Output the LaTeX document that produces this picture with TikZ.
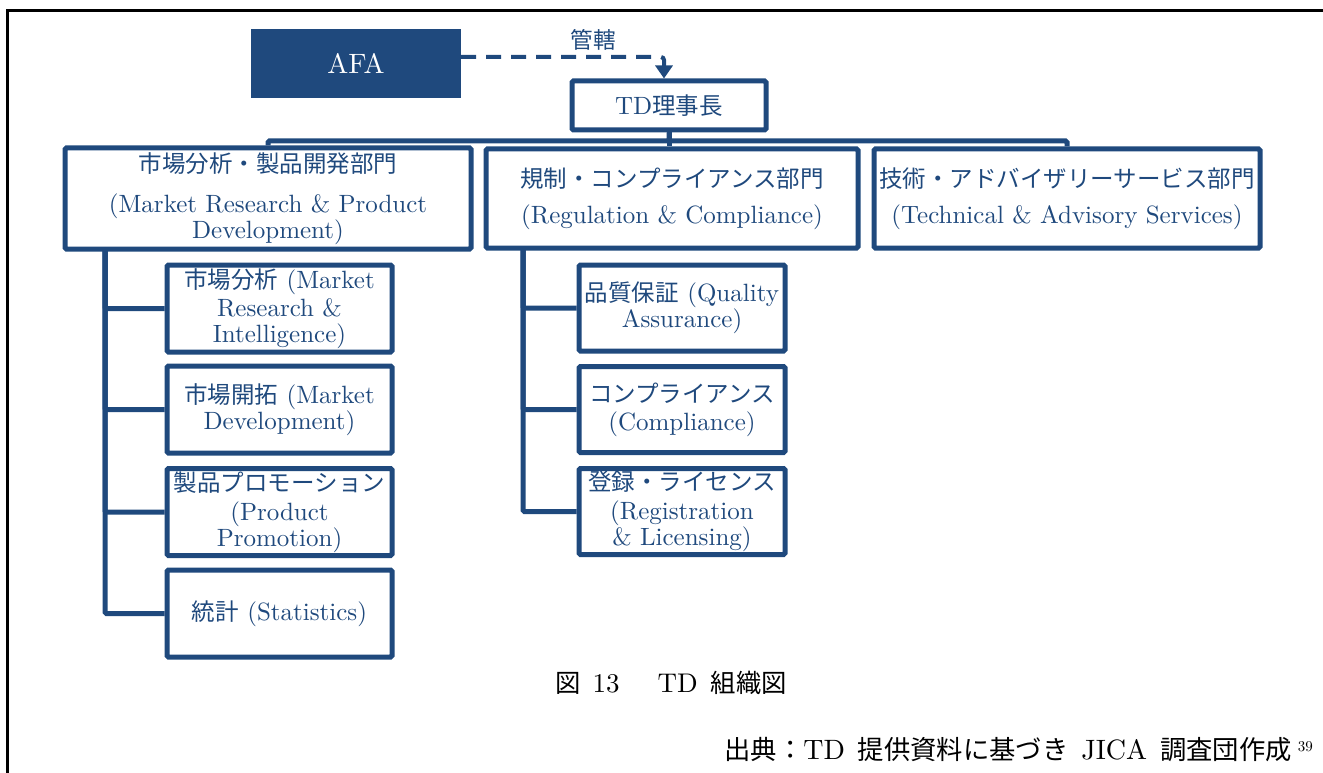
\documentclass[tikz,border=0pt]{standalone}
\usepackage{fontspec}
\usetikzlibrary{arrows.meta}
\setmainfont{lmroman10-regular.otf}
\newfontfamily\jp{Noto Sans CJK JP}[Scale=0.94]
\definecolor{navy}{RGB}{31,73,125}
\begin{document}
\begin{tikzpicture}[x=1pt,y=-1pt,
  box/.style={draw=navy, line width=5pt, rounded corners=1.5pt, fill=white, inner sep=0pt,
    align=center, text=navy, font=\fontsize{25}{26}\selectfont},
  subL/.style={box, minimum width=225pt, minimum height=87pt},
  subM/.style={box, minimum width=206pt, minimum height=86pt},
  link/.style={draw=navy, line width=5pt, rounded corners=1.5pt},
  captxt/.style={font=\fontsize{27}{27}\selectfont, text=black}]
\useasboundingbox (0,0) rectangle (1323,773);
\draw[line width=3pt] (7,773) -- (7,11) -- (1323,11);

% top
\node[fill=navy, minimum width=210pt, minimum height=69pt, inner sep=0pt, text=white,
  font=\fontsize{28}{28}\selectfont] (afa) at (356,63.5) {AFA};
\node[box, minimum width=194pt, minimum height=49pt] (td) at (669,105.5) {TD{\jp 理事長}};
\node[text=navy, font=\jp\fontsize{24}{24}\selectfont] (lbl) at (593,40) {管轄};
\draw[navy, line width=4pt, dash pattern=on 15pt off 10pt, rounded corners=3pt,
  -{Triangle[width=17pt,length=13pt]}] ([yshift=6.5pt]afa.east) -| ([xshift=-5pt]td.north);

% departments
\node[box, minimum width=406pt, minimum height=101pt] (ld) at (268,198.5)
  {{\jp 市場分析・製品開発部門}\\[14pt](Market Research \& Product\\Development)};
\node[box, minimum width=372pt, minimum height=99pt] (md) at (672,198.5)
  {{\jp 規制・コンプライアンス部門}\\[10pt](Regulation \& Compliance)};
\node[box, minimum width=386pt, minimum height=99pt] (rd) at (1067,198.5)
  {{\jp 技術・アドバイザリーサービス部門}\\[10pt](Technical \& Advisory Services)};

\coordinate (bus) at (669,141);
\draw[link] (td.south) -- (bus) -| (ld.north);
\draw[link] (bus) -| (rd.north);
\draw[link] (td.south) -- (td.south |- md.north);

% left sub units
\node[subL] (l1) at (279.5,308.5) {{\jp 市場分析} (Market\\[2pt]Research \&\\Intelligence)};
\node[subL] (l2) at (279.5,409.5) {{\jp 市場開拓} (Market\\Development)};
\node[subL] (l3) at (279.5,512) {{\jp 製品プロモーション}\\[3pt](Product\\Promotion)};
\node[subL] (l4) at (279.5,613.5) {{\jp 統計} (Statistics)};
\coordinate (lt) at (105,249);
\draw[link] (lt) |- (l1.west);
\draw[link] (lt) |- (l2.west);
\draw[link] (lt) |- (l3.west);
\draw[link] (lt) |- (l4.west);

% middle sub units
\node[subM] (m1) at (682,308) {{\jp 品質保証} (Quality\\Assurance)};
\node[subM] (m2) at (682,409.5) {{\jp コンプライアンス}\\[2pt](Compliance)};
\node[subM] (m3) at (682,511.5) {{\jp 登録・ライセンス}\\[3pt](Registration\\\& Licensing)};
\coordinate (mt) at (523,248);
\draw[link] (mt) |- (m1.west);
\draw[link] (mt) |- (m2.west);
\draw[link] (mt) |- (m3.west);

% caption
\node[captxt, anchor=base west, inner sep=0pt] (capt) at (555,692)
  {{\jp 図}\hspace{12pt}13\hspace{38pt}TD\hspace{13pt}{\jp 組織図}};
\node[font=\fontsize{28}{28}\selectfont, anchor=base east, inner sep=0pt] (src) at (1313,759)
  {{\jp 出典：}TD\hspace{13pt}{\jp 提供資料に基づき}\hspace{13pt}JICA\hspace{13pt}{\jp 調査団作成}\hspace{6pt}\raisebox{8pt}{\fontsize{15}{15}\selectfont 39}};
\end{tikzpicture}
\end{document}
